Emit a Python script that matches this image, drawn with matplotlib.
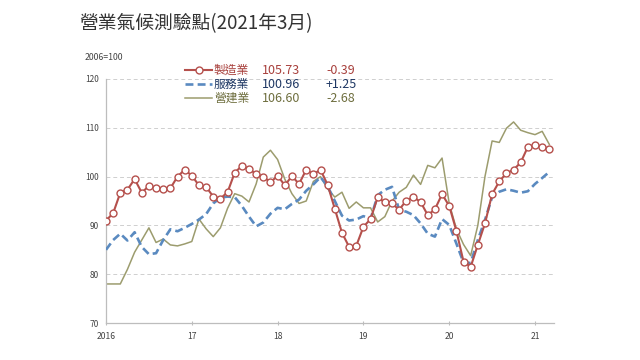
import numpy as np
import matplotlib.pyplot as plt
from matplotlib.lines import Line2D

plt.rcParams['font.family'] = ['Noto Sans CJK TC', 'DejaVu Sans']

# monthly values, Jan 2016 .. Mar 2021
manufacturing = [
    91.0, 92.5, 96.7, 97.3, 99.5, 96.7, 98.1, 97.6, 97.4, 97.6, 100.0, 101.4,
    100.2, 98.2, 97.9, 95.9, 95.5, 96.8, 100.8, 102.2, 101.6, 100.5, 100.0, 98.8,
    100.2, 98.2, 100.1, 98.5, 101.4, 100.5, 101.4, 98.3, 93.4, 88.5, 85.6, 85.8,
    89.7, 91.3, 95.8, 94.7, 94.5, 93.2, 95.1, 95.8, 94.8, 92.1, 93.3, 96.4,
    94.0, 88.9, 82.6, 81.5, 86.0, 90.4, 96.4, 99.0, 100.7, 101.4, 102.9, 106.1,
    106.5, 106.12, 105.73,
]
services = [
    85.0, 87.0, 88.3, 86.9, 88.6, 85.6, 84.1, 84.3, 87.0, 89.2, 88.8, 89.5,
    90.3, 91.2, 92.3, 94.5, 95.7, 95.9, 95.8, 94.0, 91.8, 89.8, 90.6, 92.4,
    93.6, 93.3, 94.4, 95.3, 97.1, 98.4, 99.9, 98.0, 95.0, 92.0, 91.0, 91.2,
    91.9, 91.3, 96.2, 97.3, 97.9, 93.2, 92.8, 92.1, 90.4, 88.3, 87.7, 91.3,
    90.1, 86.3, 82.4, 82.3, 87.0, 91.1, 95.8, 96.9, 97.4, 97.1, 96.7, 97.0,
    98.5, 99.71, 100.96,
]
construction = [
    78.0, 78.0, 78.0, 81.0, 84.5, 87.0, 89.5, 86.5, 87.2, 86.0, 85.8, 86.2,
    86.7, 91.3, 89.3, 87.7, 89.5, 93.5, 96.5, 96.0, 94.8, 98.5, 104.0, 105.4,
    103.5, 99.5, 96.5, 94.5, 95.0, 99.0, 100.0, 97.5, 95.8, 96.8, 93.5, 94.8,
    93.6, 93.6, 90.7, 91.8, 95.0, 96.8, 97.8, 100.3, 98.4, 102.3, 101.8, 103.8,
    94.5, 89.3, 86.1, 83.8, 90.0, 100.0, 107.3, 107.0, 109.9, 111.2, 109.5, 109.0,
    108.6, 109.28, 106.60,
]
year_labels = ['2016', '17', '18', '19', '20', '21']
legend_names = ['製造業', '服務業', '營建業']
legend_latest = ['105.73', '100.96', '106.60']
legend_change = ['-0.39', '+1.25', '-2.68']

red = '#B5504C'
blue = '#5A8AC0'
olive = '#9C9C6E'
text_cols = ['#A8403C', '#1F3864', '#6E6E3E']

fig = plt.figure(figsize=(6.4, 3.6), dpi=100)
ax = fig.add_axes([106 / 640, 1 - 323 / 360, (553.6 - 106) / 640, (323 - 79) / 360])

x = np.arange(len(manufacturing))
ax.plot(x, construction, color=olive, lw=1.1, zorder=2)
ax.plot(x, services, color=blue, lw=1.9, ls=(0, (3, 1.6)), zorder=3)
ax.plot(x, manufacturing, color=red, lw=1.5, marker='o', ms=5,
        mfc='white', mec=red, mew=1.0, zorder=4)

ax.set_ylim(70, 120)
ax.set_xlim(0, 62.6)
ax.set_yticks([70, 80, 90, 100, 110, 120])
ax.set_xticks(np.arange(0, 61, 12))
ax.set_xticklabels(year_labels)
ax.yaxis.grid(True, ls=(0, (4, 3)), color='#cfcfcf', lw=0.7)
ax.set_axisbelow(True)
for s in ['top', 'right']:
    ax.spines[s].set_visible(False)
for s in ['left', 'bottom']:
    ax.spines[s].set_color('#bdbdbd')
    ax.spines[s].set_linewidth(0.9)
ax.tick_params(axis='y', length=0, pad=5, labelsize=6, labelcolor='#444444')
ax.tick_params(axis='x', length=3, direction='inout', color='#bdbdbd',
               pad=5, labelsize=6.2, labelcolor='#444444')

fig.text(196 / 640, 1 - 24 / 360, '營業氣候測驗點(2021年3月)', ha='center',
         va='center', fontsize=13.5, color='#333333')
fig.text(85 / 640, 1 - 58 / 360, '2006=100', ha='left', va='center',
         fontsize=6.3, color='#444444')

rows_y = [70, 84, 98]
styles = [
    dict(color=red, lw=1.5, marker='o', ms=5, mfc='white', mec=red, markevery=[1]),
    dict(color=blue, lw=1.9, ls=(0, (3, 1.6))),
    dict(color=olive, lw=1.1),
]
for i in range(3):
    yy = 1 - rows_y[i] / 360
    ln = Line2D([185 / 640, 198.5 / 640, 212 / 640], [yy, yy, yy],
                transform=fig.transFigure, **styles[i])
    fig.add_artist(ln)
    fig.text(214 / 640, yy, legend_names[i], ha='left', va='center',
             fontsize=8.5, color=text_cols[i])
    fig.text(262 / 640, yy, legend_latest[i], ha='left', va='center',
             fontsize=9, color=text_cols[i])
    fig.text(326 / 640, yy, legend_change[i], ha='left', va='center',
             fontsize=9, color=text_cols[i])

fig.savefig('out.png', dpi=100, facecolor='white')
